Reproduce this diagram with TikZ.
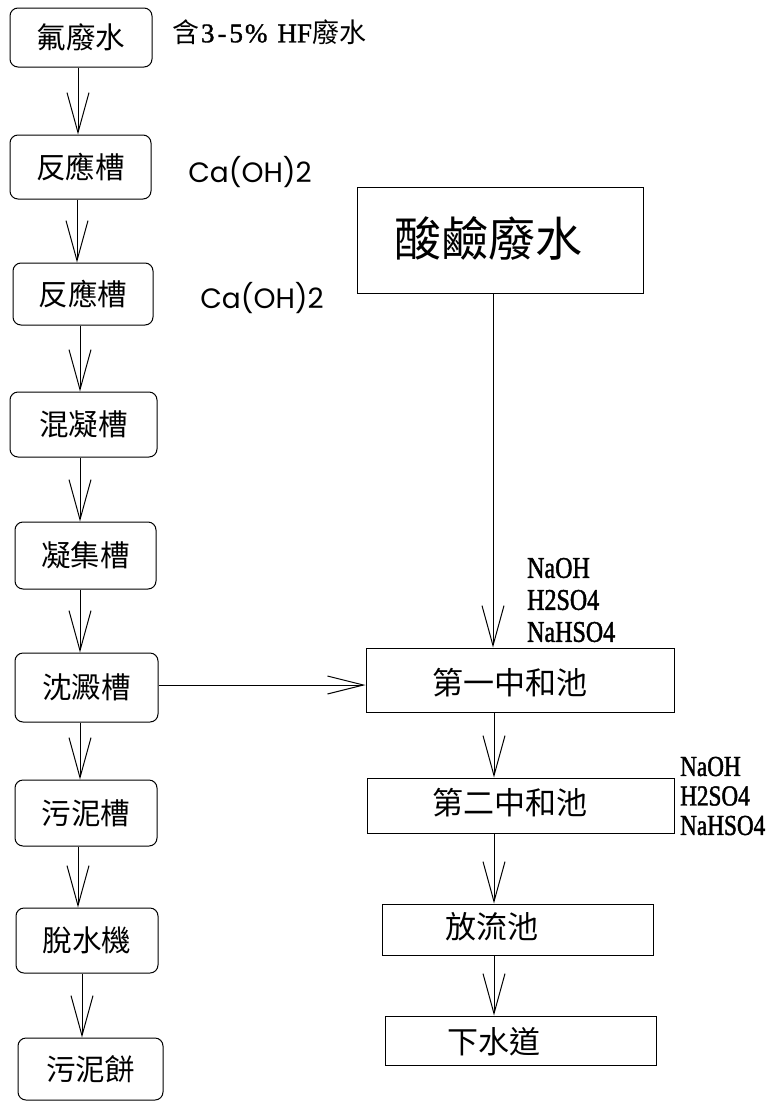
\documentclass[tikz,border=0pt]{standalone}
\usepackage{fontspec}
\usetikzlibrary{arrows.meta,calc}
\newfontfamily\cjk{Noto Sans CJK TC}
\newfontfamily\condserif[FakeStretch=0.8,FakeBold=1.5]{Liberation Serif}
\newfontfamily\hfserif[FakeBold=1.2]{Liberation Serif}
\newfontfamily\geosans{Poppins}
\newcommand\vflow[3]{\draw[flow] ([xshift=#3pt]#1.south) -- ([xshift=#3pt]#1.south |- #2.north);}
\begin{document}
\begin{tikzpicture}[x=1pt,y=-1pt,
  rbox/.style={draw,line width=1pt,rounded corners=8pt,inner sep=0pt,font=\cjk\fontsize{29.5}{32}\selectfont},
  sbox/.style={draw,line width=1pt,inner sep=0pt},
  ctext/.style={inner sep=0pt,font=\cjk\fontsize{31}{34}\selectfont},
  chem/.style={inner sep=0pt,align=left,font=\condserif\fontsize{30}{32}\selectfont},
  caoh/.style={inner sep=0pt,font=\geosans\fontsize{28}{30}\selectfont},
  flow/.style={line width=1pt,-{Straight Barb[length=40pt,width=22pt,line width=1pt]}},
  hflow/.style={line width=1pt,-{Straight Barb[length=36pt,width=18pt,line width=1pt]}}]
\useasboundingbox (0,0) rectangle (776,1103);
\fill[white] (0,0) rectangle (776,1103);
% left column
\node[rbox,minimum width=142pt,minimum height=59pt] (b1) at (81,37.5) {氟廢水};
\node[rbox,minimum width=141pt,minimum height=64pt] (b2) at (80.5,167) {反應槽};
\node[rbox,minimum width=140pt,minimum height=62pt] (b3) at (83,294) {反應槽};
\node[rbox,minimum width=147pt,minimum height=65pt] (b4) at (83.5,424.5) {混凝槽};
\node[rbox,minimum width=141pt,minimum height=67pt] (b5) at (85.5,555.5) {凝集槽};
\node[rbox,minimum width=143pt,minimum height=69pt] (b6) at (86.5,687.5) {沈澱槽};
\node[rbox,minimum width=142pt,minimum height=66pt] (b7) at (86,813) {污泥槽};
\node[rbox,minimum width=142pt,minimum height=65pt] (b8) at (87,940.5) {脫水機};
\node[rbox,minimum width=145pt,minimum height=62pt] (b9) at (90.5,1069) {污泥餅};
\vflow{b1}{b2}{-3}
\vflow{b2}{b3}{-3.5}
\vflow{b3}{b4}{-3}
\vflow{b4}{b5}{-3.5}
\vflow{b5}{b6}{-5.5}
\vflow{b6}{b7}{-6.5}
\vflow{b7}{b8}{-8}
\vflow{b8}{b9}{-5}
% side labels
\node[inner sep=0pt] (hf) at (269,32) {\cjk\fontsize{27}{30}\selectfont 含\hspace{2pt}\hfserif 3\hspace{3pt}-\hspace{3pt}5\hspace{2pt}\%\hspace{10pt}HF\cjk 廢水};
\node[caoh] (ca1) at (250,172) {Ca(OH)2};
\node[caoh] (ca2) at (262,298) {Ca(OH)2};
% right column
\node[sbox,minimum width=286pt,minimum height=106pt] (acid) at (500,240) {};
\node[ctext,font=\cjk\fontsize{47}{50}\selectfont] (acidt) at (488,238) {酸鹼廢水};
\node[sbox,minimum width=308pt,minimum height=64pt] (n1) at (520,680) {};
\node[ctext] (n1t) at (510,683) {第一中和池};
\node[sbox,minimum width=307pt,minimum height=55pt] (n2) at (520.5,805.5) {};
\node[ctext] (n2t) at (510,803) {第二中和池};
\node[sbox,minimum width=271pt,minimum height=51pt] (out) at (517.5,929.5) {};
\node[ctext] (outt) at (492,927) {放流池};
\node[sbox,minimum width=271pt,minimum height=49pt] (sew) at (520.5,1040.5) {};
\node[ctext] (sewt) at (494,1042) {下水道};
\node[chem,anchor=west] (chem1) at (527,600) {NaOH\\H2SO4\\NaHSO4};
\node[chem,anchor=west,font=\condserif\fontsize{29}{29.5}\selectfont] (chem2) at (680,796) {NaOH\\H2SO4\\NaHSO4};
\vflow{acid}{n1}{-7}
\vflow{n1}{n2}{-26}
\vflow{n2}{out}{-26.5}
\vflow{out}{sew}{-23.5}
\draw[hflow] ([yshift=2.5pt]b6.east) -- ([yshift=2.5pt]b6.east -| n1.west);
\end{tikzpicture}
\end{document}
